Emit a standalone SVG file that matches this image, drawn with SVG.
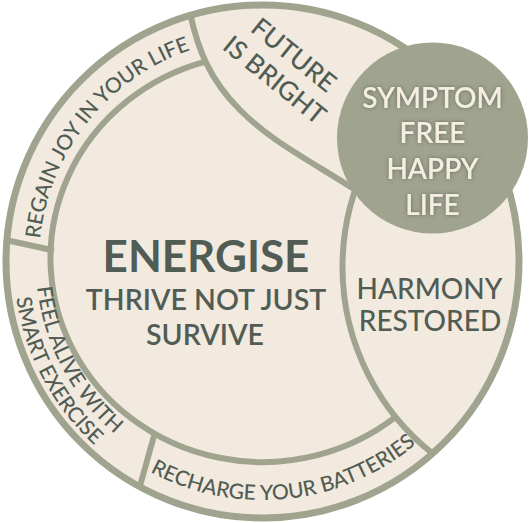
<svg xmlns="http://www.w3.org/2000/svg" width="530" height="523" viewBox="0 0 530 523">
<defs>
<style>
.ln{fill:none;stroke:#a0a48e;stroke-width:6}
.t{font-family:Lato,"Liberation Sans",sans-serif;fill:#515c54;text-anchor:middle}
.ring{font-size:21px;font-weight:500}
.mid{font-size:28px;font-weight:500}
.big{font-size:44px;font-weight:700}
.sub{font-size:28.5px;font-weight:600}
.sym{font-family:Lato,"Liberation Sans",sans-serif;font-size:28px;font-weight:600;fill:#f4ede2;text-anchor:middle;filter:url(#glow)}
</style>
<clipPath id="clip"><circle cx="262.5" cy="261.5" r="258"/></clipPath>
<filter id="glow" x="-20%" y="-40%" width="140%" height="180%">
<feGaussianBlur in="SourceAlpha" stdDeviation="2.2" result="b"/>
<feFlood flood-color="#4e5648" flood-opacity="0.75"/>
<feComposite in2="b" operator="in" result="s"/>
<feMerge><feMergeNode in="s"/><feMergeNode in="SourceGraphic"/></feMerge>
</filter>
<path id="pRegain" d="M43.5,306.1 A223.5,223.5 0 0 1 256.65,38.1"/>
<path id="pFeel" d="M45.6,195.1 A227,227 0 0 0 196.1,478.6"/>
<path id="pSmart" d="M24.4,188.7 A249,249 0 0 0 189.7,499.6"/>
<path id="pRecharge" d="M96.8,433.1 A238.5,238.5 0 0 0 460.2,394.9"/>
</defs>

<circle cx="262.5" cy="261.5" r="256.5" fill="#f2eadf"/>

<g id="connectors" clip-path="url(#clip)">
<path class="ln" d="M205.5,61.6 A212,204 0 1 0 396.2,416.4"/>
<path class="ln" d="M432,81 A238,238 0 0 0 432,453 A238,238 0 0 0 432,81 Z"/>
<path class="ln" d="M190,13 C198,50 210,80 240,110 S300,155 354,189"/>
<path class="ln" d="M1,239 L54,250.5"/>
<path class="ln" d="M138,493 L154.5,434"/>
</g>
<circle cx="262.5" cy="261.5" r="256.5" fill="none" stroke="#a0a48e" stroke-width="7"/>

<g id="energise">
<text class="t big" x="206" y="272">ENERGISE</text>
<text class="t sub" x="206" y="310">THRIVE NOT JUST</text>
<text class="t sub" x="205" y="345">SURVIVE</text>
</g>

<g id="harmony">
<text class="t mid" x="429.5" y="299">HARMONY</text>
<text class="t mid" x="430" y="331">RESTORED</text>
</g>

<g id="future">
<text class="t" font-size="26" font-weight="500" transform="translate(288,62) rotate(39)">FUTURE</text>
<text class="t" font-size="26" font-weight="500" transform="translate(269,87) rotate(39)">IS BRIGHT</text>
</g>

<g id="regain">
<text class="t ring"><textPath href="#pRegain" startOffset="50%">REGAIN JOY IN YOUR LIFE</textPath></text>
</g>

<g id="feel">
<text class="t ring"><textPath href="#pFeel" startOffset="50%">FEEL ALIVE WITH</textPath></text>
<text class="t ring"><textPath href="#pSmart" startOffset="50%">SMART EXERCISE</textPath></text>
</g>

<g id="recharge">
<text class="t ring"><textPath href="#pRecharge" startOffset="50%">RECHARGE YOUR BATTERIES</textPath></text>
</g>

<g id="symptom">
<circle cx="432.5" cy="138" r="95.5" fill="#a0a48e"/>
<text class="sym" x="432.5" y="108">SYMPTOM</text>
<text class="sym" x="432.5" y="143">FREE</text>
<text class="sym" x="432.5" y="179">HAPPY</text>
<text class="sym" x="432.5" y="215">LIFE</text>
</g>
</svg>
